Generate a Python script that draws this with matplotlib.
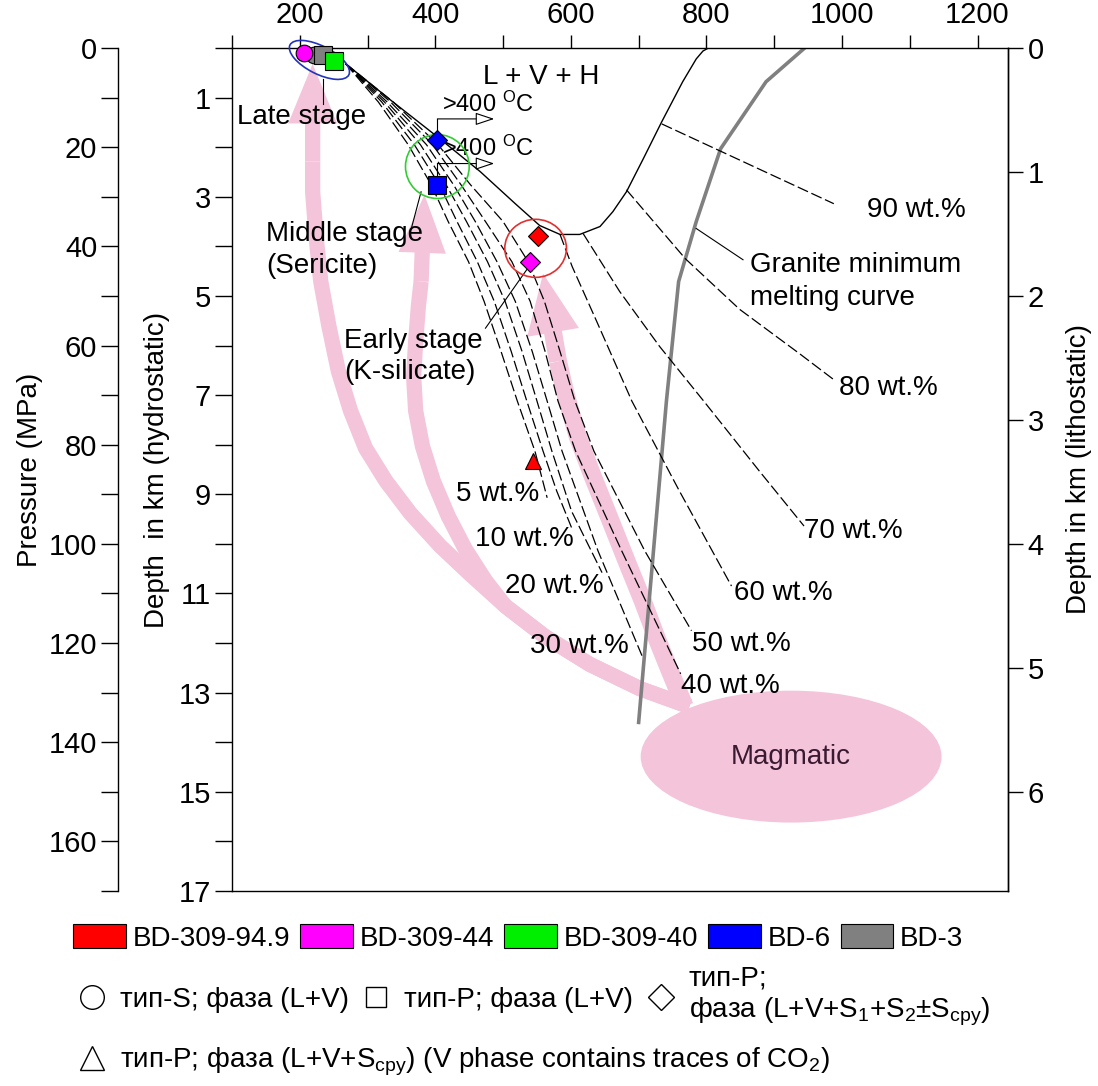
import matplotlib
matplotlib.use('Agg')
import matplotlib.pyplot as plt
from matplotlib.patches import Ellipse, Patch
from matplotlib.lines import Line2D
from matplotlib.transforms import ScaledTranslation

plt.rcParams['font.family'] = ['Liberation Sans', 'DejaVu Sans']
plt.rcParams['mathtext.fontset'] = 'custom'
plt.rcParams['mathtext.rm'] = 'Liberation Sans'
plt.rcParams['mathtext.it'] = 'Liberation Sans:italic'
plt.rcParams['mathtext.bf'] = 'Liberation Sans:bold'
plt.rcParams['axes.linewidth'] = 1.0

# ---- samples / fluid inclusions (T in degC, depth in km hydrostatic)
samples = ['BD-309-94.9', 'BD-309-44', 'BD-309-40', 'BD-6', 'BD-3']
sample_colors = ['#ff0000', '#ff00ff', '#00ee00', '#0000ff', '#808080']

pt_sample = ['BD-3', 'BD-3', 'BD-309-40', 'BD-309-44', 'BD-6', 'BD-6', 'BD-309-94.9', 'BD-309-44', 'BD-309-94.9']
pt_marker = ['o', 's', 's', 'o', 'D', 's', 'D', 'D', '^']
pt_temp = [221, 234, 250, 206, 403, 403, 551, 540, 544]
pt_depth = [0.14, 0.14, 0.26, 0.10, 1.85, 2.76, 3.80, 4.31, 8.33]

# ---- halite saturation (L+V+H) curve
halite_t = [268, 334, 403, 466, 518, 554, 584, 613, 643, 662, 682, 707, 734, 765, 785, 795, 803]
halite_d = [0.32, 1.05, 1.79, 2.49, 3.14, 3.58, 3.76, 3.76, 3.60, 3.30, 2.90, 2.23, 1.49, 0.68, 0.22, 0.06, 0.0]

# ---- granite minimum melting curve
granite_t = [945, 888, 821, 785, 759, 741, 700]
granite_d = [0.0, 0.68, 2.03, 3.50, 4.71, 7.12, 13.6]

# ---- isopleths (wt.% NaCl eq.)
fan_d = [0.32, 1.09, 1.95, 2.76, 3.50, 4.31, 5.11, 6.12, 7.12, 8.13]
iso_labels = ['5 wt.%', '10 wt.%', '20 wt.%', '30 wt.%', '40 wt.%', '50 wt.%',
              '60 wt.%', '70 wt.%', '80 wt.%', '90 wt.%']
iso_t = [
    [268, 316, 360, 394, 419, 449, 472, 497, 521, 547, 565],
    [268, 321, 369, 406, 432, 462, 487, 512, 535, 559, 579, 603],
    [268, 325, 378, 416, 446, 477, 503, 528, 550, 572, 601, 646],
    [268, 329, 387, 427, 459, 491, 518, 543, 565, 587, 640, 706],
    [268, 334, 396, 438, 474, 513, 540, 562, 581, 607, 675, 762],
    [268, 338, 404, 452, 500, 537, 561, 584, 606, 634, 709, 778],
    [584, 602, 638, 690, 760, 837],
    [618, 672, 731, 796, 878, 944],
    [682, 769, 849, 937, 991],
    [734, 988],
]
iso_d = [
    fan_d + [9.07],
    fan_d + [8.93, 9.74],
    fan_d + [9.34, 10.58],
    fan_d + [10.14, 12.29],
    fan_d + [10.14, 12.62],
    fan_d + [10.14, 11.75],
    [3.76, 4.41, 5.51, 7.12, 8.93, 10.85],
    [3.74, 4.91, 6.02, 7.12, 8.53, 9.64],
    [2.86, 4.25, 5.27, 6.16, 6.72],
    [1.53, 3.14],
]
iso_lab_t = [431, 459, 503, 540, 762, 779, 841, 944, 996, 1037]
iso_lab_d = [8.99, 9.90, 10.85, 12.05, 12.86, 12.01, 10.99, 9.74, 6.86, 3.26]

# ---- pink fluid-path arrows from the magmatic source
late_t = [775, 702, 628, 562, 503, 452, 407, 363, 327, 297, 275, 257, 243, 231, 224, 219, 219]
late_d = [13.28, 12.92, 12.43, 11.87, 11.25, 10.62, 10.04, 9.38, 8.73, 8.07, 7.32, 6.52, 5.61,
          4.71, 3.80, 2.90, 2.29]
late_tip = (219, 0.32)
mid_t = [775, 702, 628, 562, 503, 474, 444, 419, 397, 381, 371, 368, 371, 375, 379]
mid_d = [13.28, 12.92, 12.43, 11.87, 11.25, 10.74, 10.10, 9.44, 8.73, 8.03, 7.32, 6.62, 5.92,
         5.21, 4.71]
mid_tip = (384, 2.96)
early_t = [768, 749, 728, 706, 682, 657, 632, 610, 593, 581]
early_d = [13.28, 12.66, 11.95, 11.15, 10.34, 9.48, 8.63, 7.83, 7.02, 6.32]
early_tip = (559, 4.55)

pink = '#f4c4da'
fs = 20

fig = plt.figure(figsize=(10.98, 10.86), dpi=100)
ax = fig.add_axes([232 / 1098, 1 - 891 / 1086, 776 / 1098, 843 / 1086])
ax.set_xlim(100, 1245)
ax.set_ylim(17, 0)

# magmatic source + paths
ax.add_patch(Ellipse((925, 14.29), 444, 2.66, fc=pink, ec='none', zorder=0.5))
ax.text(925, 14.29, 'Magmatic', ha='center', va='center', fontsize=fs, color='#3a1a30', zorder=0.7)


def band(ts, ds, tip, lw, hw, hl):
    ax.plot(ts, ds, color=pink, lw=lw, solid_capstyle='butt', solid_joinstyle='round', zorder=0.6)
    ax.annotate('', xy=tip, xytext=(ts[-1], ds[-1]), zorder=0.6,
                arrowprops=dict(arrowstyle='simple,head_width=%g,head_length=%g,tail_width=1' % (hw, hl),
                                mutation_scale=lw, color=pink, lw=0, shrinkA=0, shrinkB=0))


band(late_t, late_d, late_tip, 11, 3.2, 3.9)
band(mid_t, mid_d, mid_tip, 11, 3.1, 3.8)
band(early_t, early_d, early_tip, 13, 2.9, 3.3)

# curves
ax.plot(halite_t, halite_d, color='k', lw=1.0, zorder=2)
ax.plot(granite_t, granite_d, color='#808080', lw=2.6, zorder=2)
for ts, ds in zip(iso_t, iso_d):
    ax.plot(ts, ds, color='k', lw=0.9, dashes=(9, 3), zorder=2)
for lab, t, d in zip(iso_labels, iso_lab_t, iso_lab_d):
    ax.text(t, d, lab, ha='left', va='center', fontsize=fs, zorder=3)

# stage circles
ax.add_patch(Ellipse((548, 4.04), 91, 1.17, fill=False, ec='#e03030', lw=1.2, zorder=4))
ax.add_patch(Ellipse((403, 2.39), 94, 1.29, fill=False, ec='#33cc33', lw=1.2, zorder=4))
trans = fig.dpi_scale_trans + ScaledTranslation(229, 0.24, ax.transData)
ax.add_patch(Ellipse((0, 0), 0.66, 0.28, angle=-27, transform=trans, fill=False,
                     ec='#2233bb', lw=1.2, zorder=4, clip_on=False))

# leader lines and stage labels
ax.plot([235, 235], [0.62, 1.13], color='k', lw=0.8, zorder=3)
ax.plot([379, 365], [2.90, 3.62], color='k', lw=0.8, zorder=3)
ax.plot([537, 474], [4.43, 5.65], color='k', lw=0.8, zorder=3)
ax.plot([785, 854], [3.64, 4.27], color='k', lw=0.8, zorder=3)
ax.text(107, 1.39, 'Late stage', ha='left', va='center', fontsize=fs, zorder=3)
ax.text(150, 3.76, 'Middle stage', ha='left', va='center', fontsize=fs, zorder=3)
ax.text(150, 4.39, '(Sericite)', ha='left', va='center', fontsize=fs, zorder=3)
ax.text(265, 5.90, 'Early stage', ha='left', va='center', fontsize=fs, zorder=3)
ax.text(265, 6.54, '(K-silicate)', ha='left', va='center', fontsize=fs, zorder=3)
ax.text(865, 4.37, 'Granite minimum', ha='left', va='center', fontsize=fs, zorder=3)
ax.text(865, 5.05, 'melting curve', ha='left', va='center', fontsize=fs, zorder=3)
ax.text(471, 0.58, 'L + V + H', ha='left', va='center', fontsize=fs, zorder=3)

# >400 C arrows
for d0, d1, dt in [(1.69, 1.43, 1.13), (2.62, 2.33, 2.03)]:
    ax.plot([403, 403], [d0, d1], color='k', lw=0.8, zorder=3)
    ax.annotate('', xy=(487, d1), xytext=(403, d1), zorder=3,
                arrowprops=dict(arrowstyle='-|>,head_length=0.9,head_width=0.3', fc='white',
                                ec='k', lw=0.8, shrinkA=0, shrinkB=0, mutation_scale=13))
    ax.text(410, dt, r'>400 $^{\rm O}$C', ha='left', va='center', fontsize=17, zorder=3)

# inclusion data
col = dict(zip(samples, sample_colors))
sizes = {'o': 12, 's': 12.5, 'D': 10, '^': 12}
for i in range(len(pt_temp)):
    z = 5 if pt_sample[i] == 'BD-3' else (6 if pt_sample[i] == 'BD-309-40' else 7)
    ax.plot(pt_temp[i], pt_depth[i], marker=pt_marker[i], ms=sizes[pt_marker[i]], ls='none',
            mfc=col[pt_sample[i]], mec='k', mew=0.8, clip_on=False, zorder=z)

# axes: temperature on top, hydrostatic depth on left
ax.xaxis.tick_top()
ax.set_xticks(range(200, 1201, 200))
ax.set_xticks(range(100, 1201, 100), minor=True)
ax.tick_params(axis='x', which='both', direction='out', length=9.5, width=1, labelsize=21, pad=4)
ax.set_yticks(range(1, 18, 2))
ax.set_yticks(range(0, 17, 2), minor=True)
ax.tick_params(axis='y', which='both', direction='out', length=12, width=1, labelsize=21, pad=3)
ax.set_ylabel('Depth  in km (hydrostatic)', fontsize=fs, labelpad=6)

axp = ax.twinx()
axp.set_ylim(170, 0)
axp.spines['left'].set_position(('outward', 82))
for s in ['right', 'top', 'bottom']:
    axp.spines[s].set_visible(False)
axp.yaxis.set_ticks_position('left')
axp.yaxis.set_label_position('left')
axp.set_yticks(range(0, 161, 20))
axp.set_yticks(range(10, 171, 20), minor=True)
axp.tick_params(axis='y', which='both', direction='out', length=12, width=1, labelsize=21, pad=3)
axp.set_ylabel('Pressure (MPa)', fontsize=fs, labelpad=4)

axr = ax.secondary_yaxis('right', functions=(lambda d: d / 2.5, lambda k: k * 2.5))
axr.set_yticks(range(0, 7))
axr.tick_params(axis='y', direction='out', length=11, width=1, labelsize=21, pad=3)
axr.set_ylabel('Depth in km (lithostatic)', fontsize=fs, labelpad=16)

# legends
h1 = [Patch(fc=c, ec='k', lw=0.8) for c in sample_colors]
fig.legend(h1, samples, loc='center left', bbox_to_anchor=(73 / 1098, 1 - 938 / 1086), ncol=5,
           frameon=False, fontsize=fs, handlelength=1.9, handleheight=0.95, handletextpad=0.25,
           columnspacing=0.35, borderpad=0, borderaxespad=0)

mk = dict(ls='none', mfc='white', mec='k', mew=1.0)
h2 = [Line2D([], [], marker='o', ms=17, **mk), Line2D([], [], marker='s', ms=15, **mk),
      Line2D([], [], marker='D', ms=13, **mk)]
l2 = ['тип-S; фаза (L+V)', 'тип-P; фаза (L+V)',
      'тип-P;\nфаза (L+V+S$_1$+S$_2$±S$_{\\rm cpy}$)']
fig.legend(h2, l2, loc='center left', bbox_to_anchor=(78 / 1098, 1 - 997 / 1086), ncol=3,
           frameon=False, fontsize=fs, handlelength=1.0, handletextpad=0.5, columnspacing=0.5,
           borderpad=0, borderaxespad=0)
h3 = [Line2D([], [], marker='^', ms=17, **mk)]
l3 = ['тип-P; фаза (L+V+S$_{\\rm cpy}$) (V phase contains traces of CO$_2$)']
fig.legend(h3, l3, loc='center left', bbox_to_anchor=(78 / 1098, 1 - 1062 / 1086),
           frameon=False, fontsize=fs, handlelength=1.0, handletextpad=0.5,
           borderpad=0, borderaxespad=0)

fig.savefig('out.png', dpi=100)
